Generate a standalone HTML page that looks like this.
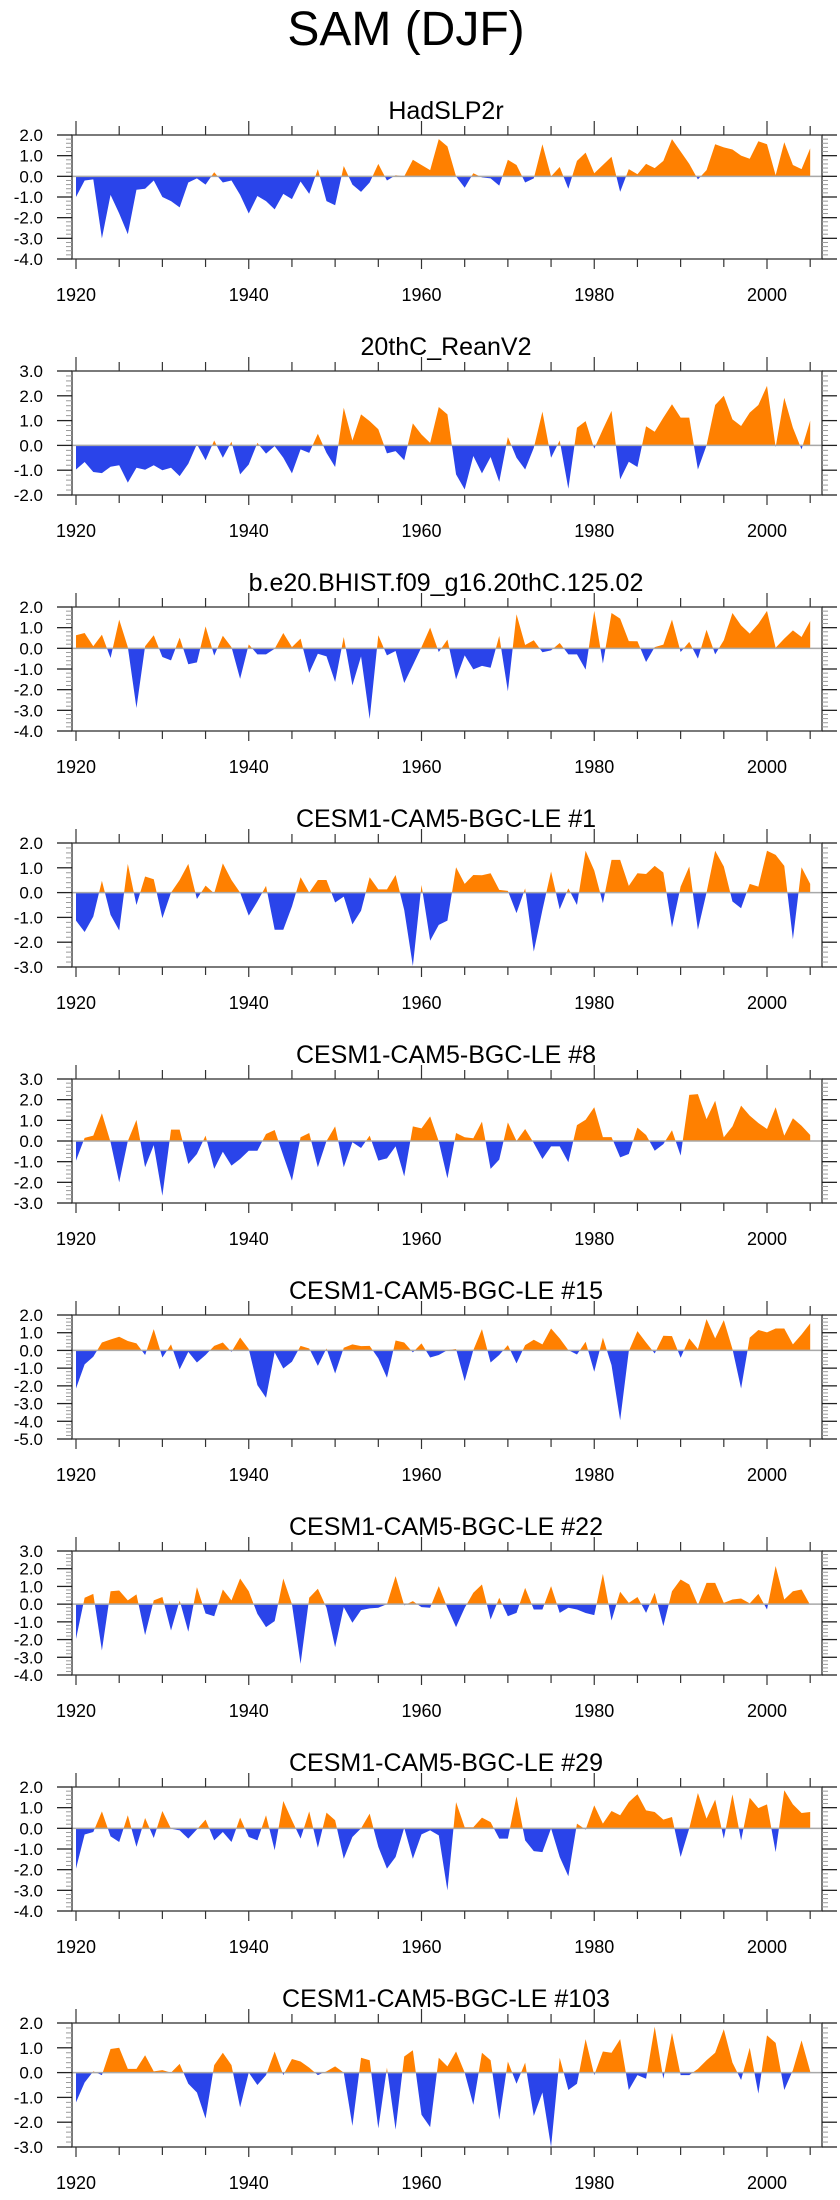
<!DOCTYPE html>
<html><head><meta charset="utf-8"><title>SAM (DJF)</title>
<style>
html,body{margin:0;padding:0;background:#fff;}
svg{display:block;font-family:"Liberation Sans",Arial,sans-serif;}
</style></head>
<body>
<svg id="chart" width="840" height="2200" viewBox="0 0 840 2200" xmlns="http://www.w3.org/2000/svg">
<text x="406" y="45" font-size="48" text-anchor="middle" fill="#000">SAM (DJF)</text>
</svg>
<script>
const startYear = 1920;
const xTickYears = [1920, 1940, 1960, 1980, 2000];
const panelTitles = ["HadSLP2r","20thC_ReanV2","b.e20.BHIST.f09_g16.20thC.125.02","CESM1-CAM5-BGC-LE #1","CESM1-CAM5-BGC-LE #8","CESM1-CAM5-BGC-LE #15","CESM1-CAM5-BGC-LE #22","CESM1-CAM5-BGC-LE #29","CESM1-CAM5-BGC-LE #103"];
const yMaxes = [2,3,2,2,3,2,3,2,2];
const yMins = [-4,-2,-4,-3,-3,-5,-4,-4,-3];
const hadslp2r = [-1.0,-0.2,-0.15,-3.0,-0.9,-1.8,-2.8,-0.65,-0.6,-0.2,-1.0,-1.2,-1.5,-0.3,-0.1,-0.4,0.2,-0.3,-0.2,-0.9,-1.8,-0.95,-1.2,-1.6,-0.85,-1.1,-0.25,-0.85,0.35,-1.2,-1.4,0.5,-0.4,-0.75,-0.3,0.6,-0.2,0.05,0.0,0.8,0.55,0.3,1.8,1.45,0.0,-0.55,0.15,-0.05,-0.1,-0.45,0.8,0.55,-0.3,-0.1,1.55,0.0,0.45,-0.6,0.75,1.15,0.15,0.55,0.95,-0.75,0.35,0.1,0.6,0.4,0.75,1.8,1.2,0.6,-0.15,0.3,1.55,1.4,1.3,1.0,0.85,1.7,1.55,0.05,1.65,0.55,0.35,1.35];
const reanV2 = [-0.97,-0.67,-1.07,-1.12,-0.86,-0.8,-1.5,-0.9,-0.98,-0.8,-1.0,-0.9,-1.24,-0.74,0.05,-0.6,0.2,-0.5,0.15,-1.17,-0.77,0.1,-0.33,-0.03,-0.5,-1.13,-0.16,-0.3,0.47,-0.3,-0.87,1.52,0.2,1.25,0.98,0.65,-0.32,-0.23,-0.6,0.89,0.44,0.1,1.55,1.25,-1.17,-1.78,-0.43,-1.13,-0.47,-1.47,0.34,-0.5,-0.97,-0.1,1.36,-0.5,0.2,-1.75,0.71,0.98,-0.13,0.65,1.39,-1.37,-0.66,-0.87,0.77,0.55,1.12,1.66,1.12,1.12,-0.97,0.0,1.63,2.0,1.05,0.78,1.32,1.63,2.4,-0.07,1.92,0.71,-0.16,1.0];
const bhist125 = [0.63,0.74,0.1,0.66,-0.47,1.39,0.06,-2.89,0.1,0.63,-0.42,-0.58,0.52,-0.77,-0.68,1.06,-0.35,0.61,0.06,-1.48,0.19,-0.29,-0.29,-0.02,0.74,0.06,0.47,-1.19,-0.26,-0.39,-1.63,0.55,-1.79,-0.39,-3.42,0.63,-0.34,-0.13,-1.68,-0.82,0.06,1.0,-0.18,0.42,-1.5,-0.34,-1.02,-0.85,-0.94,0.6,-2.08,1.65,0.16,0.39,-0.19,-0.1,0.26,-0.29,-0.29,-1.03,1.81,-0.74,1.71,1.44,0.35,0.34,-0.66,0.06,0.18,1.39,-0.18,0.31,-0.5,0.9,-0.29,0.39,1.71,1.11,0.71,1.19,1.81,0.03,0.47,0.87,0.55,1.32];
const le1 = [-1.13,-1.59,-0.97,0.48,-0.9,-1.53,1.16,-0.5,0.65,0.54,-1.03,0,0.51,1.16,-0.26,0.28,-0.03,1.18,0.51,0.0,-0.93,-0.36,0.27,-1.5,-1.5,-0.56,0.62,0,0.51,0.51,-0.4,-0.16,-1.28,-0.73,0.62,0.13,0.13,0.71,-0.7,-2.96,0.31,-1.94,-1.3,-1.13,1.02,0.35,0.71,0.7,0.78,0.11,0.07,-0.83,0.17,-2.38,-0.7,0.85,-0.67,0.17,-0.5,1.69,0.89,-0.43,1.32,1.32,0.27,0.78,0.75,1.08,0.81,-1.4,0.24,1.05,-1.5,0,1.69,1.05,-0.36,-0.63,0.35,0.24,1.69,1.52,1.08,-1.88,1.02,0.35];
const le8 = [-0.95,0.15,0.26,1.34,-0.05,-2.0,0,1.02,-1.27,-0.2,-2.65,0.55,0.55,-1.11,-0.63,0.26,-1.35,-0.52,-1.19,-0.87,-0.47,-0.47,0.34,0.53,-0.71,-1.92,0.18,0.39,-1.27,0,0.71,-1.27,-0.06,-0.34,0.26,-0.95,-0.84,-0.26,-1.71,0.71,0.61,1.19,-0.02,-1.81,0.39,0.18,0.13,0.94,-1.35,-0.9,0.9,0,0.58,-0.1,-0.87,-0.26,-0.26,-1.03,0.77,1.03,1.63,0.19,0.19,-0.79,-0.63,0.65,0.29,-0.47,-0.15,0.52,-0.71,2.23,2.27,1.06,1.95,0.18,0.71,1.71,1.23,0.87,0.58,1.63,0.26,1.1,0.74,0.29];
const le15 = [-2.15,-0.79,-0.36,0.45,0.62,0.77,0.53,0.4,-0.26,1.2,-0.4,0.34,-1.07,-0.08,-0.68,-0.26,0.26,0.45,-0.08,0.73,0.08,-1.96,-2.67,-0.11,-1.02,-0.64,0.26,0.11,-0.87,0.11,-1.3,0.15,0.34,0.24,0.26,-0.45,-1.54,0.56,0.45,-0.11,0.4,-0.4,-0.26,0.02,0.08,-1.73,0.02,1.2,-0.68,-0.26,0.3,-0.73,0.3,0.6,0.34,1.24,0.68,0.02,-0.23,0.49,-1.2,0.72,-0.83,-3.94,-0.04,1.09,0.45,-0.17,0.83,0.81,-0.41,0.68,0.08,1.77,0.68,1.71,0.08,-2.15,0.72,1.15,1.02,1.24,1.24,0.34,0.9,1.53];
const le22 = [-1.96,0.36,0.58,-2.62,0.73,0.77,0.21,0.55,-1.75,0.21,0.4,-1.49,0.21,-1.56,0.96,-0.53,-0.68,0.83,0.21,1.45,0.73,-0.55,-1.3,-0.96,1.45,0,-3.37,0.36,0.87,-0.2,-2.43,-0.17,-1.05,-0.34,-0.24,-0.2,0,1.58,-0.07,0.17,-0.17,-0.2,1.02,-0.21,-1.3,-0.21,0.64,1.11,-0.87,0.36,-0.68,-0.49,0.92,-0.3,-0.3,1.02,-0.49,-0.2,-0.3,-0.5,-0.62,1.71,-0.92,0.7,0.07,0.4,-0.49,0.64,-1.24,0.73,1.39,1.11,-0.05,1.2,1.2,0.07,0.26,0.32,0.04,0.58,-0.3,2.15,0.26,0.73,0.83,-0.05];
const le29 = [-1.95,-0.3,-0.18,0.82,-0.39,-0.66,0.63,-0.9,0.5,-0.47,0.84,-0.02,-0.1,-0.5,-0.05,0.42,-0.58,-0.18,-0.66,0.52,-0.42,-0.58,0.63,-1.06,1.32,0.39,-0.5,0.82,-0.94,0.76,0.39,-1.47,-0.42,0.0,0.71,-0.9,-1.95,-1.39,0.03,-1.47,-0.29,-0.1,-0.34,-3.0,1.27,0.05,0.05,0.52,0.3,-0.5,-0.5,1.55,-0.58,-1.1,-1.15,0.0,-1.39,-2.32,0.23,-0.06,1.11,0.23,0.84,0.63,1.27,1.65,0.87,0.79,0.42,0.55,-1.39,0.0,1.71,0.47,1.39,-0.5,1.65,-0.58,1.48,0.98,1.16,-1.15,1.84,1.16,0.74,0.79];
const le103 = [-1.2,-0.4,0.05,-0.1,0.95,1.0,0.15,0.15,0.7,0.05,0.1,0.0,0.35,-0.45,-0.8,-1.85,0.3,0.8,0.3,-1.4,0.0,-0.5,-0.1,0.85,-0.1,0.55,0.45,0.2,-0.1,0.05,0.25,0.0,-2.15,0.6,0.5,-2.25,0.2,-2.3,0.65,0.9,-1.7,-2.2,0.6,0.25,0.85,0.0,-1.3,0.8,0.5,-1.9,0.45,-0.45,0.4,-1.75,-0.8,-3.0,0.6,-0.7,-0.45,1.35,-0.1,0.85,0.8,1.35,-0.7,-0.1,-0.25,1.85,-0.25,1.6,-0.1,-0.1,0.15,0.5,0.8,1.75,0.4,-0.3,1.0,-0.85,1.5,1.2,-0.7,0.1,1.3,0.05];
const seriesList = [hadslp2r, reanV2, bhist125, le1, le8, le15, le22, le29, le103];

const NS = "http://www.w3.org/2000/svg";
const svg = document.getElementById("chart");
const FL = 72, FR = 822, FH = 124, TOP0 = 135, STEP = 236;
function xScale(yr){ return 76 + (yr - 1920) * (691 / 80); }
function makeY(top, ymax, ymin){ return v => top + (ymax - v) / (ymax - ymin) * FH; }
function el(tag, attrs, parent){
  const e = document.createElementNS(NS, tag);
  for (const k in attrs) e.setAttribute(k, attrs[k]);
  (parent || svg).appendChild(e);
  return e;
}

seriesList.forEach((vals, p) => {
  const top = TOP0 + p * STEP, bot = top + FH;
  const ymax = yMaxes[p], ymin = yMins[p];
  const y = makeY(top, ymax, ymin);
  const y0 = y(0);
  const g = el("g", {});
  
  

  const t = el("text", {x: 446, y: top - 16, "font-size": 25, "text-anchor": "middle", fill: "#000"}, g);
  
  
  t.textContent = panelTitles[p];

  // clip paths
  const defs = el("defs", {}, g);
  const cpA = el("clipPath", {id: "above" + p}, defs);
  el("rect", {x: FL, y: top, width: FR - FL, height: y0 - top}, cpA);
  const cpB = el("clipPath", {id: "below" + p}, defs);
  el("rect", {x: FL, y: y0, width: FR - FL, height: bot - y0}, cpB);

  let d = "M" + xScale(startYear).toFixed(2) + "," + y0.toFixed(2);
  vals.forEach((v, i) => { d += " L" + xScale(startYear + i).toFixed(2) + "," + y(v).toFixed(2); });
  d += " L" + xScale(startYear + vals.length - 1).toFixed(2) + "," + y0.toFixed(2) + " Z";
  const pos = el("path", {d: d, fill: "#FF8000", "clip-path": "url(#above" + p + ")"}, g);
  
  
  const neg = el("path", {d: d, fill: "#2A44EA", "clip-path": "url(#below" + p + ")"}, g);
  
  

  const zl = el("line", {x1: FL, x2: FR, y1: y0, y2: y0, stroke: "#a8a8a8", "stroke-width": 1.5}, g);
  
  

  const fr = el("rect", {x: FL, y: top, width: FR - FL, height: FH, fill: "none", stroke: "#333", "stroke-width": 1.3}, g);
  
  

  // y ticks
  for (let k = Math.round(ymin * 5); k <= Math.round(ymax * 5); k++) {
    const v = k / 5, yy = y(v), major = (k % 5 === 0);
    const len = major ? 15 : 6;
    el("line", {x1: FL - len, x2: FL, y1: yy, y2: yy, stroke: major ? "#222" : "#999", "stroke-width": major ? 1.3 : 1}, g);
    el("line", {x1: FR, x2: FR + len, y1: yy, y2: yy, stroke: major ? "#222" : "#999", "stroke-width": major ? 1.3 : 1}, g);
    if (major) {
      const lb = el("text", {x: 43, y: yy + 6, "font-size": 17, "text-anchor": "end", fill: "#000"}, g);
      
      
      lb.textContent = v.toFixed(1);
    }
  }
  // x ticks
  for (let yr = 1920; yr <= 2005; yr += 5) {
    const xx = xScale(yr), major = (yr % 20 === 0);
    el("line", {x1: xx, x2: xx, y1: top - (major ? 14 : 9), y2: top, stroke: "#333", "stroke-width": 1.2}, g);
    el("line", {x1: xx, x2: xx, y1: bot, y2: bot + (major ? 10 : 8), stroke: "#333", "stroke-width": 1.2}, g);
  }
  xTickYears.forEach(yr => {
    const lb = el("text", {x: xScale(yr), y: bot + 42, "font-size": 18, "text-anchor": "middle", fill: "#000"}, g);
    
    
    lb.textContent = String(yr);
  });
});
</script>
</body></html>
